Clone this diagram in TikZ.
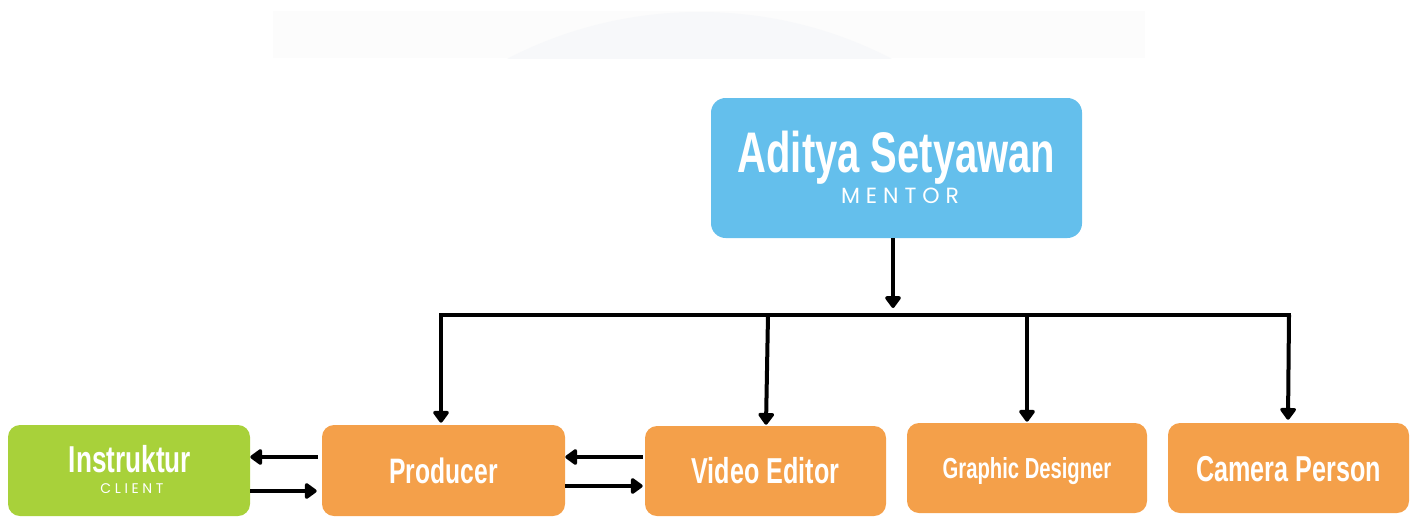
\documentclass[tikz,border=0pt]{standalone}
\usepackage{fontspec}
\setmainfont{Liberation Sans}
\newfontfamily\condfont[FakeStretch=0.74]{Liberation Sans}
\newfontfamily\rolefont[LetterSpace=27]{Poppins}
\newfontfamily\rolefontb[LetterSpace=26]{Poppins}
\usetikzlibrary{arrows.meta,calc}
\definecolor{mblue}{HTML}{64BFEC}
\definecolor{morange}{HTML}{F4A04A}
\definecolor{mgreen}{HTML}{A8D13A}
\definecolor{bgA}{HTML}{FCFCFC}
\definecolor{bgB}{HTML}{F7F8FA}
\tikzset{
  mentorbox/.style={fill=mblue, rounded corners=11pt, minimum width=278.25pt, minimum height=105pt, inner sep=0pt},
  rolebox/.style={fill=morange, rounded corners=9pt, minimum width=181.5pt, minimum height=68.25pt, inner sep=0pt, text=white},
  clientbox/.style={rolebox, fill=mgreen},
  nametext/.style={text=white, inner sep=0pt, anchor=base},
  arr/.style={line width=3pt, -{Triangle[width=13.5pt,length=9.75pt,round]}},
  busline/.style={line width=3pt, line cap=rect},
}
\begin{document}
\begin{tikzpicture}[x=0.75pt,y=-0.75pt]
\useasboundingbox (0,0) rectangle (1419,518);
% faint backdrop
\fill[bgA] (273,11) rectangle (1145,58);
\begin{scope}
  \clip (273,11) rectangle (1145,58);
  \fill[bgB] (699.5,429.7) circle (417.7);
\end{scope}

% mentor
\node[mentorbox] (mentor) at (896.5,168) {};
\node[nametext, font=\condfont\bfseries\fontsize{40.5pt}{40.5pt}\selectfont] (mentorname) at (896.5,172) {\scalebox{1}[1.06]{Aditya Setyawan}};
\node[nametext, font=\rolefont\fontsize{16.5pt}{16.5pt}\selectfont] (mentorrole) at (900,203) {MENTOR};

% lower boxes
\node[clientbox, minimum width=181.5pt] (instr) at (129,470.5) {};
\node[nametext, font=\condfont\bfseries\fontsize{26.5pt}{26.5pt}\selectfont] (instrname) at (130,472.7) {\scalebox{1}[1.06]{Instruktur}};
\node[nametext, font=\rolefontb\fontsize{10.5pt}{10.5pt}\selectfont] (instrrole) at (132,493) {CLIENT};

\node[rolebox, minimum width=182.25pt, text height=19pt, text depth=0pt, font=\condfont\bfseries\fontsize{25pt}{25pt}\selectfont] (prod) at (443.5,470.5) {\scalebox{1}[1.06]{Producer}};
\node[rolebox, minimum width=180.75pt, minimum height=67.5pt, text height=19pt, text depth=0pt, font=\condfont\bfseries\fontsize{25.5pt}{25.5pt}\selectfont] (video) at (765.5,471) {\scalebox{1}[1.06]{Video Editor}};
\node[rolebox, minimum width=180pt, minimum height=67.5pt, text height=15pt, text depth=0pt, font=\condfont\bfseries\fontsize{20.5pt}{20.5pt}\selectfont] (graphic) at (1027,468) {\scalebox{1}[1.06]{Graphic Designer}};
\node[rolebox, minimum width=180.75pt, minimum height=67.5pt, text height=19.5pt, text depth=0pt, font=\condfont\bfseries\fontsize{25.5pt}{25.5pt}\selectfont] (camera) at (1288.5,468) {\scalebox{1}[1.06]{Camera Person}};

% bus
\coordinate (busL) at (441,315);
\coordinate (busR) at (1289,315);
\coordinate (busV) at (768,315);
\coordinate (busG) at (1027,315);
\draw[busline] (busL) -- (busR);
\draw[arr] ($(mentor.south)+(-3.5,0)$) -- ($(mentor.south |- busL)+(-3.5,-7)$);
\draw[arr, shorten >=1.5pt] (busL) -- (busL |- prod.north);
\draw[arr] (busV) -- ($(video.north)+(0.5,-1)$);
\draw[arr] (busG) -- ($(busG |- graphic.north)+(0,-1)$);
\draw[arr] (busR) -- ($(busR |- camera.north)+(-1,-3)$);

% horizontal exchanges
\draw[arr] ($(prod.west)+(-4,-13.5)$) -- ($(instr.east)+(0,-13.5)$);
\draw[arr] ($(instr.east)+(0,20.5)$) -- ($(prod.west)+(-5,20.5)$);
\draw[arr] ($(video.west)+(-2,-14)$) -- ($(prod.east)+(0,-13.5)$);
\draw[arr] ($(prod.east)+(0,15.5)$) -- ($(video.west)+(-2,15)$);
\end{tikzpicture}
\end{document}
